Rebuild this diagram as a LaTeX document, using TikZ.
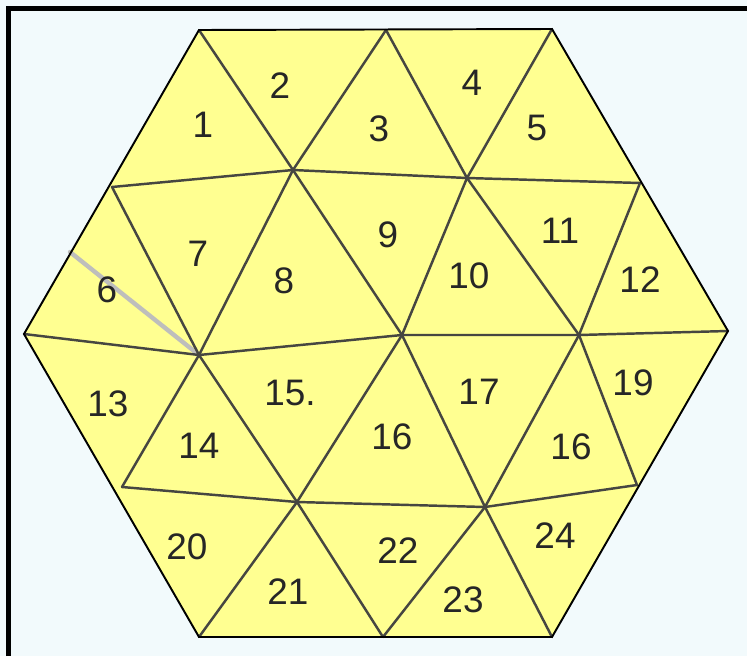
\documentclass[tikz,border=0pt]{standalone}
\usepackage{fontspec}
\setmainfont{Liberation Sans}
\usetikzlibrary{calc}
\definecolor{hexYellow}{RGB}{255,255,145}
\definecolor{paperBlue}{RGB}{242,250,252}
\definecolor{pencil}{RGB}{70,70,65}
\tikzset{
  rim/.style={draw=black, line width=1.1pt, line join=miter},
  cutline/.style={draw=pencil, line width=1.4pt, line cap=round, line join=round},
  ghost/.style={draw=pencil!35, line width=2.5pt, line cap=round},
  frameline/.style={draw=black, line width=2.3pt},
  num/.style={font=\fontsize{21}{21}\selectfont, text=black!85, inner sep=0pt}
}

\begin{document}
\begin{tikzpicture}[x=0.02cm, y=-0.02cm]
\fill[paperBlue] (0,0) rectangle (747,656);
\useasboundingbox (0,0) rectangle (747,656);
\draw[frameline] (8.5,656) -- (8.5,8.5) -- (747,8.5);

% grid points of the hexagon
\coordinate (tl) at (199,30);
\coordinate (tm) at (386,30);
\coordinate (tr) at (552,29);
\coordinate (ul) at (112,187);
\coordinate (a)  at (293,170);
\coordinate (b)  at (467,178);
\coordinate (ur) at (640,183);
\coordinate (l)  at (24,334);
\coordinate (c)  at (199,355);
\coordinate (o)  at (402,335);
\coordinate (d)  at (579,335);
\coordinate (r)  at (728,331);
\coordinate (ll) at (122,487);
\coordinate (e)  at (297,502);
\coordinate (f)  at (485,507);
\coordinate (lr) at (637,485);
\coordinate (bl) at (199,637);
\coordinate (bm) at (383,637);
\coordinate (br) at (552,637);

\fill[hexYellow] (tl) -- (tr) -- (r) -- (br) -- (bl) -- (l) -- cycle;

% stray pencil stroke
\draw[ghost] (70,252) -- (c);

% rows
\draw[cutline] (ul) -- (a) -- (b) -- (ur);
\draw[cutline] (l) -- (c) -- (o) -- (d) -- (r);
\draw[cutline] (ll) -- (e) -- (f) -- (lr);
% falling diagonals
\draw[cutline] (tl) -- (a) -- (o) -- (f) -- (br);
\draw[cutline] (tm) -- (b) -- (d) -- (lr);
\draw[cutline] (ul) -- (c) -- (e) -- (bm);
% rising diagonals
\draw[cutline] (tr) -- (b) -- (o) -- (e) -- (bl);
\draw[cutline] (tm) -- (a) -- (c) -- (ll);
\draw[cutline] (ur) -- (d) -- (f) -- (bm);

\draw[rim] (tl) -- (tr) -- (r) -- (br) -- (bl) -- (l) -- cycle;

% triangle numbers
\foreach \n/\t/\x/\y in {1/1/203/125, 2/2/280/86, 3/3/379/129, 4/4/472/83, 5/5/537/128,
  6/6/107/290, 7/7/198/254, 8/8/284/281, 9/9/388/235, 10/10/469/276, 11/11/560/231, 12/12/640/280,
  13/13/108/404, 14/14/199/446, 15/15./290/393, 16/16/392/437, 17/17/479/392, 18/16/571/447, 19/19/633/383,
  20/20/187/547, 21/21/288/592, 22/22/398/551, 23/23/463/600, 24/24/555/536}
  \node[num] (t\n) at (\x,\y) {\t};
\end{tikzpicture}
\end{document}
